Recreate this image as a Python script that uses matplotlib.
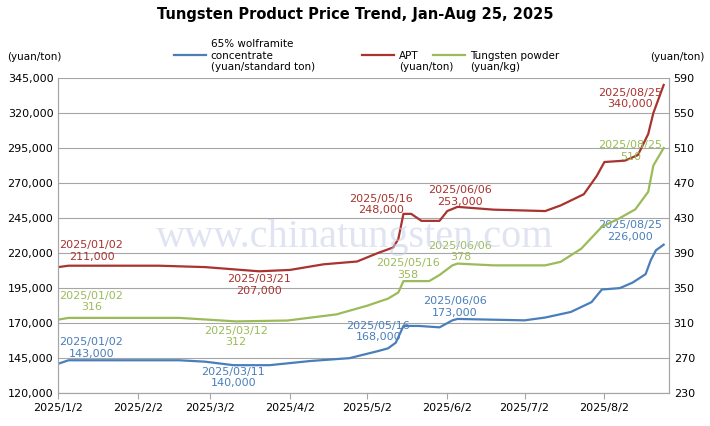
import numpy as np
import pandas as pd
import matplotlib
matplotlib.use("Agg")
import matplotlib.pyplot as plt

# key dates / values
wolf_dates = ["2025-01-02", "2025-01-06", "2025-02-18", "2025-02-28", "2025-03-11", "2025-03-25",
              "2025-04-10", "2025-04-25", "2025-05-06", "2025-05-10", "2025-05-13", "2025-05-16",
              "2025-05-22", "2025-05-30", "2025-06-04", "2025-06-06", "2025-07-02", "2025-07-10",
              "2025-07-20", "2025-07-28", "2025-08-01", "2025-08-08", "2025-08-13", "2025-08-18",
              "2025-08-20", "2025-08-22", "2025-08-25"]
wolf_vals = [141000, 143500, 143500, 142500, 140000, 140000, 143000, 145000, 150000, 152000,
             156000, 168000, 168000, 167000, 172000, 173000, 172000, 174000, 178000, 185000,
             194000, 195000, 199000, 205000, 215000, 222000, 226000]

apt_dates = ["2025-01-02", "2025-01-06", "2025-02-10", "2025-02-28", "2025-03-21", "2025-04-02",
             "2025-04-15", "2025-04-28", "2025-05-06", "2025-05-12", "2025-05-14", "2025-05-16",
             "2025-05-19", "2025-05-23", "2025-05-30", "2025-06-02", "2025-06-06", "2025-06-20",
             "2025-07-10", "2025-07-16", "2025-07-25", "2025-07-30", "2025-08-02", "2025-08-10",
             "2025-08-15", "2025-08-19", "2025-08-21", "2025-08-25"]
apt_vals = [210000, 211000, 211000, 210000, 207000, 208000, 212000, 214000, 220000, 224000,
            230000, 248000, 248000, 243000, 243000, 250000, 253000, 251000, 250000, 254000,
            262000, 275000, 285000, 286000, 290000, 305000, 320000, 340000]

pow_dates = ["2025-01-02", "2025-01-06", "2025-02-18", "2025-03-12", "2025-04-01", "2025-04-20",
             "2025-05-02", "2025-05-10", "2025-05-14", "2025-05-16", "2025-05-26", "2025-05-30",
             "2025-06-04", "2025-06-06", "2025-06-20", "2025-07-10", "2025-07-16", "2025-07-24",
             "2025-08-01", "2025-08-08", "2025-08-14", "2025-08-19", "2025-08-21", "2025-08-25"]
pow_vals = [314, 316, 316, 312, 313, 320, 330, 338, 345, 358, 358, 365, 376, 378, 376, 376,
            380, 395, 420, 430, 440, 460, 490, 510]

xtick_dates = ["2025-01-02", "2025-02-02", "2025-03-02", "2025-04-02", "2025-05-02",
               "2025-06-02", "2025-07-02", "2025-08-02"]
xtick_labels = ["2025/1/2", "2025/2/2", "2025/3/2", "2025/4/2", "2025/5/2",
                "2025/6/2", "2025/7/2", "2025/8/2"]

BLUE, RED, GREEN = "#4a7ebb", "#a8332f", "#9bbb59"

fig = plt.figure(figsize=(7.10, 4.26), dpi=100)
ax = fig.add_axes([0.082, 0.077, 0.86, 0.74])
ax2 = ax.twinx()

ax.plot(pd.to_datetime(wolf_dates), wolf_vals, color=BLUE, lw=1.6)
ax.plot(pd.to_datetime(apt_dates), apt_vals, color=RED, lw=1.6)
ax2.plot(pd.to_datetime(pow_dates), pow_vals, color=GREEN, lw=1.6)

ax.set_ylim(120000, 345000)
ax.set_yticks(np.arange(120000, 345001, 25000))
ax.set_yticklabels([f"{v:,}" for v in range(120000, 345001, 25000)])
ax2.set_ylim(230, 590)
ax2.set_yticks(np.arange(230, 591, 40))
ax.set_xlim(pd.Timestamp("2025-01-02"), pd.Timestamp("2025-08-27"))
ax.set_xticks(pd.to_datetime(xtick_dates))
ax.set_xticklabels(xtick_labels)
ax.grid(axis="y", color="#a6a6a6", lw=0.8)
for a_ in (ax, ax2):
    a_.tick_params(labelsize=8, length=0)
    for s in a_.spines.values():
        s.set_color("#a6a6a6")
    a_.spines["top"].set_visible(False)
ax.tick_params(axis="x", length=4, color="#a6a6a6", pad=3)

fig.text(0.5, 0.955, "Tungsten Product Price Trend, Jan-Aug 25, 2025",
         ha="center", fontsize=10.5, fontweight="bold")
fig.text(0.01, 0.86, "(yuan/ton)", fontsize=7.5)
fig.text(0.915, 0.86, "(yuan/ton)", fontsize=7.5)
leg = [(0.245, BLUE, "65% wolframite\nconcentrate\n(yuan/standard ton)"),
       (0.51, RED, "APT\n(yuan/ton)"),
       (0.61, GREEN, "Tungsten powder\n(yuan/kg)")]
for x, c, t in leg:
    fig.add_artist(plt.Line2D([x, x + 0.045], [0.87, 0.87], color=c, lw=1.6))
    fig.text(x + 0.052, 0.83, t, fontsize=7.5, va="bottom")

fig.text(0.5, 0.42, "www.chinatungsten.com", ha="center", fontsize=29,
         color="#c8cfe8", alpha=0.55, fontfamily="Liberation Serif")

# (axis, date, value, text, colour, dx, dy, va) offsets in points
ann = [(ax, "2025-01-02", 143500, "2025/01/02\n143,000", BLUE, 24, 1, "bottom"),
       (ax, "2025-03-11", 140000, "2025/03/11\n140,000", BLUE, 0, -1, "top"),
       (ax, "2025-05-16", 168000, "2025/05/16\n168,000", BLUE, -18, -4, "center"),
       (ax, "2025-06-06", 173000, "2025/06/06\n173,000", BLUE, -2, 1, "bottom"),
       (ax, "2025-08-25", 226000, "2025/08/25\n226,000", BLUE, -24, 2, "bottom"),
       (ax, "2025-01-02", 211000, "2025/01/02\n211,000", RED, 24, 3, "bottom"),
       (ax, "2025-03-21", 207000, "2025/03/21\n207,000", RED, 0, -2, "top"),
       (ax, "2025-05-16", 248000, "2025/05/16\n248,000", RED, -16, -1, "bottom"),
       (ax, "2025-06-06", 253000, "2025/06/06\n253,000", RED, 2, 0, "bottom"),
       (ax, "2025-08-25", 340000, "2025/08/25\n340,000", RED, -24, -2, "top"),
       (ax2, "2025-01-02", 316, "2025/01/02\n316", GREEN, 24, 4, "bottom"),
       (ax2, "2025-03-12", 312, "2025/03/12\n312", GREEN, 0, -3, "top"),
       (ax2, "2025-05-16", 358, "2025/05/16\n358", GREEN, 3, 1, "bottom"),
       (ax2, "2025-06-06", 378, "2025/06/06\n378", GREEN, 2, 1, "bottom"),
       (ax2, "2025-08-25", 510, "2025/08/25\n510", GREEN, -24, -2, "center")]
for axx, d, v, t, c, dx, dy, va in ann:
    axx.annotate(t, (pd.Timestamp(d), v), xytext=(dx, dy), textcoords="offset points",
                 ha="center", va=va, fontsize=8, color=c, linespacing=1.2)

fig.savefig("out.png", dpi=100)
